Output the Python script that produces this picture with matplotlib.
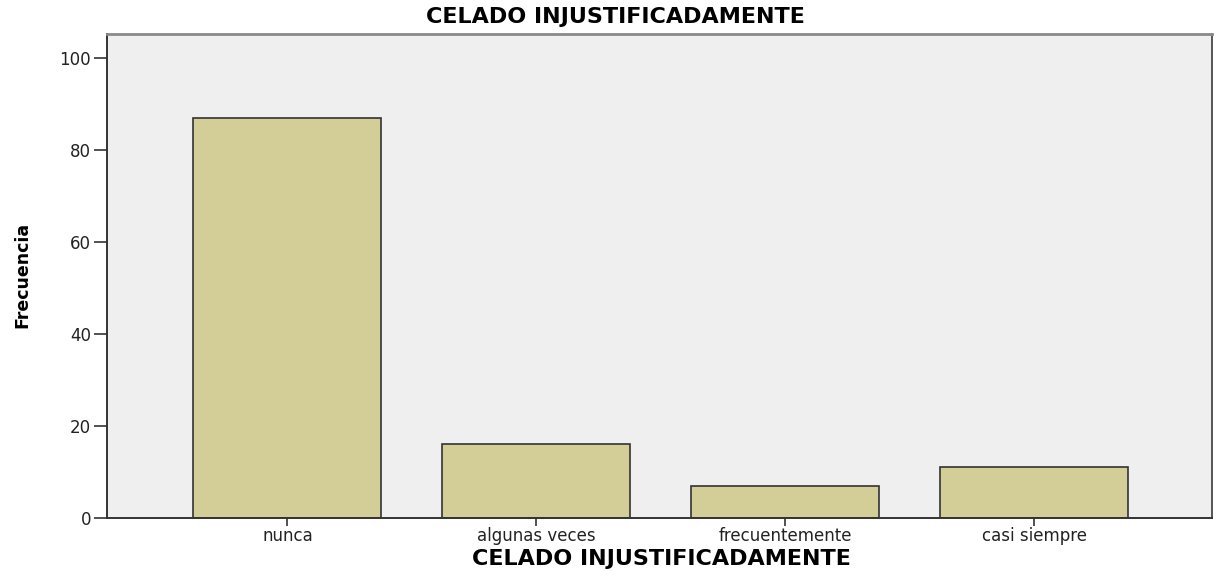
import matplotlib
matplotlib.use("Agg")
import matplotlib.pyplot as plt
import numpy as np

plt.rcParams["font.family"] = ["DejaVu Sans"]

categories = ["nunca", "algunas veces", "frecuentemente", "casi siempre"]
frecuencia = [87, 16, 7, 11]
yticks = [0, 20, 40, 60, 80, 100]
title = "CELADO INJUSTIFICADAMENTE"

BAR = "#D3CE98"
EDGE = "#333333"
BG = "#EFEFEF"

fig = plt.figure(figsize=(12.14, 5.75), dpi=100, facecolor="white")
ax = fig.add_axes([107 / 1214, 1 - 518 / 575, (1212 - 107) / 1214, (518 - 33.5) / 575])
ax.set_facecolor(BG)

x = np.arange(len(categories))
ax.bar(x, frecuencia, width=0.755, color=BAR, edgecolor=EDGE, linewidth=1.2, zorder=2)

ax.set_xlim(-0.725, len(categories) - 1 + 0.715)
ax.set_ylim(0, 105.4)
ax.set_yticks(yticks)
ax.set_xticks(x)
ax.set_xticklabels(categories, fontsize=12, color="#222222")
ax.tick_params(axis="y", length=9.5, width=1.2, color="#333333", pad=2,
               labelsize=12, labelcolor="#222222")
ax.tick_params(axis="x", length=5.5, width=1.2, color="#333333", pad=1)

for side in ["left", "bottom"]:
    ax.spines[side].set_color("#333333")
    ax.spines[side].set_linewidth(1.4)
ax.spines["top"].set_color("#8A8A8A")
ax.spines["top"].set_linewidth(2)
ax.spines["right"].set_color("#555555")
ax.spines["right"].set_linewidth(1.4)

# axis titles placed as figure text to match the tight SPSS layout
fig.text(661 / 1214, 1 - 559 / 575, title, fontsize=16, fontweight="bold",
         ha="center", va="center")
fig.text(0.507, 1 - 17 / 575, title, fontsize=16, fontweight="bold",
         ha="center", va="center")
fig.text(22 / 1214, 1 - 275 / 575, "Frecuencia", rotation=90, fontsize=12.5,
         fontweight="bold", ha="center", va="center")

fig.savefig("out.png", dpi=100, facecolor="white")
